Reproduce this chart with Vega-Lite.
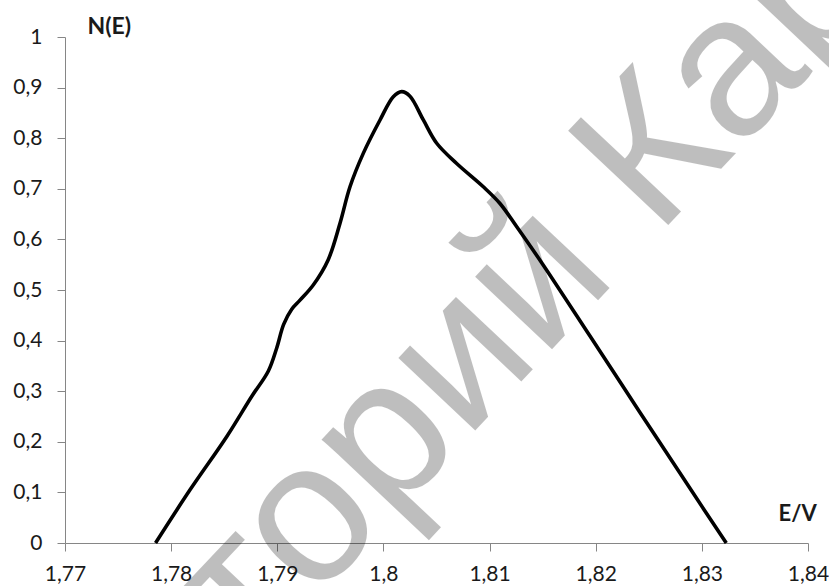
{
  "$schema": "https://vega.github.io/schema/vega-lite/v6.json",
  "width": 743,
  "height": 506,
  "autosize": {"type": "none"},
  "padding": {"left": 65, "top": 37, "right": 21, "bottom": 43},
  "background": "white",
  "config": {"view": {"stroke": null}, "font": "Lato"},
  "datasets": {
    "curve": [
      {"E": 1.77853, "N": 0},
      {"E": 1.78178, "N": 0.105},
      {"E": 1.78523, "N": 0.21},
      {"E": 1.7876, "N": 0.29},
      {"E": 1.78916, "N": 0.34},
      {"E": 1.78994, "N": 0.385},
      {"E": 1.7906, "N": 0.432},
      {"E": 1.79136, "N": 0.462},
      {"E": 1.79214, "N": 0.48},
      {"E": 1.79339, "N": 0.51},
      {"E": 1.7948, "N": 0.56},
      {"E": 1.79591, "N": 0.632},
      {"E": 1.79685, "N": 0.704},
      {"E": 1.7981, "N": 0.77},
      {"E": 1.79968, "N": 0.836},
      {"E": 1.80093, "N": 0.882},
      {"E": 1.80172, "N": 0.892},
      {"E": 1.8025, "N": 0.883},
      {"E": 1.80376, "N": 0.836},
      {"E": 1.80502, "N": 0.79},
      {"E": 1.8069, "N": 0.75},
      {"E": 1.80941, "N": 0.704},
      {"E": 1.81098, "N": 0.671},
      {"E": 1.81256, "N": 0.625},
      {"E": 1.81494, "N": 0.553},
      {"E": 1.81946, "N": 0.409},
      {"E": 1.82417, "N": 0.258},
      {"E": 1.82888, "N": 0.108},
      {"E": 1.8323, "N": 0}
    ],
    "wm1": [{"E": 1.8222, "N": 0.5237, "label": "Репозиторий"}],
    "wm2": [{"E": 1.82578, "N": 0.6047, "label": "КарГУ"}]
  },
  "encoding": {
    "x": {
      "field": "E",
      "type": "quantitative",
      "scale": {"domain": [1.77, 1.84], "nice": false, "zero": false},
      "axis": {
        "values": [1.77, 1.78, 1.79, 1.8, 1.81, 1.82, 1.83, 1.84],
        "labelExpr": "replace(format(datum.value, '.2~f'), '.', ',')",
        "grid": false,
        "domainColor": "#868686",
        "tickColor": "#868686",
        "tickSize": 8,
        "labelFont": "Lato",
        "labelFontSize": 21,
        "labelColor": "#1a1a1a",
        "labelPadding": 12,
        "labelFlush": false,
        "labelOverlap": false,
        "title": "E/V",
        "titleFont": "Lato",
        "titleFontWeight": "bold",
        "titleFontSize": 22,
        "titleColor": "#1a1a1a",
        "titleX": 713,
        "titleY": -23,
        "titleAlign": "left",
        "titleBaseline": "alphabetic",
        "titleAnchor": null
      }
    },
    "y": {
      "field": "N",
      "type": "quantitative",
      "scale": {"domain": [0, 1], "nice": false},
      "axis": {
        "values": [0, 0.1, 0.2, 0.3, 0.4, 0.5, 0.6, 0.7, 0.8, 0.9, 1],
        "labelExpr": "replace(format(datum.value, '.1~f'), '.', ',')",
        "grid": false,
        "domainColor": "#868686",
        "tickColor": "#868686",
        "tickSize": 8,
        "labelFont": "Lato",
        "labelFontSize": 21,
        "labelColor": "#1a1a1a",
        "labelPadding": 15,
        "labelFlush": false,
        "labelOverlap": false,
        "title": "N(E)",
        "titleFont": "Lato",
        "titleFontWeight": "bold",
        "titleFontSize": 23,
        "titleColor": "#1a1a1a",
        "titleAngle": 0,
        "titleX": 22,
        "titleY": -4,
        "titleAlign": "left",
        "titleBaseline": "alphabetic",
        "titleAnchor": null
      }
    }
  },
  "layer": [
    {
      "data": {"name": "wm1"},
      "mark": {"type": "text", "align": "right", "baseline": "alphabetic", "angle": 313.3, "font": "Liberation Sans", "fontSize": 200, "fill": "#000000", "opacity": 0.25},
      "encoding": {"text": {"field": "label"}}
    },
    {
      "data": {"name": "wm2"},
      "mark": {"type": "text", "align": "left", "baseline": "alphabetic", "angle": 313.3, "font": "Liberation Sans", "fontSize": 200, "fill": "#000000", "opacity": 0.25},
      "encoding": {"text": {"field": "label"}}
    },
    {
      "data": {"name": "curve"},
      "mark": {"type": "line", "color": "#000000", "strokeWidth": 3.6, "interpolate": "catmull-rom"}
    }
  ]
}
